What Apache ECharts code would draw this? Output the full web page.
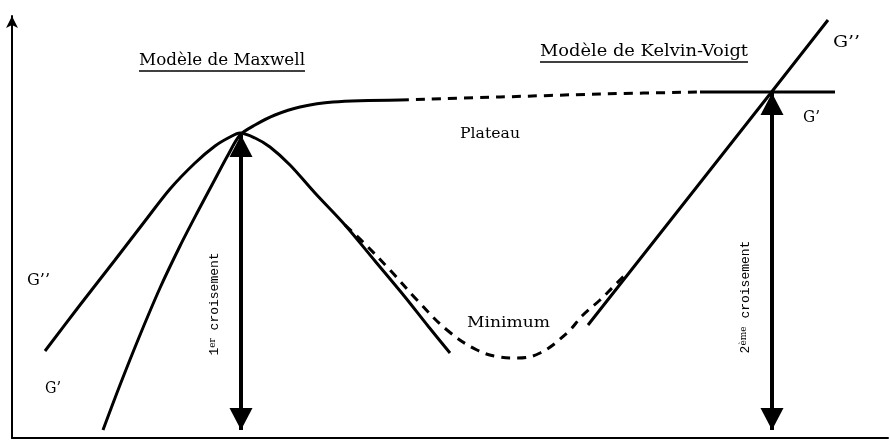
<!DOCTYPE html>
<html>
<head>
<meta charset="utf-8">
<script src="https://cdn.jsdelivr.net/npm/echarts@6/dist/echarts.min.js"></script>
<style>
  html, body { margin: 0; padding: 0; background: #fff; }
  #chart { width: 890px; height: 441px; }
</style>
</head>
<body>
<div id="chart"></div>
<script>
// curve points, [x, y] in arbitrary units
const maxwellGpp = [
    [33, 87], [68, 133], [103, 178], [133, 217], [158, 249], [183, 275], [203, 292],
    [218, 301], [228, 305], [243, 300], [258, 291], [278, 273], [303, 245], [333, 213],
    [363, 177], [393, 141], [416, 112], [438, 85]
];
const realGpp = [
    [333, 213], [351, 196], [378, 168], [405, 138], [435, 108], [465, 88], [488, 81],
    [505, 80], [528, 85], [555, 105], [571, 123], [588, 138], [600, 150], [613, 163]
];
const kelvinGpp = [[576, 113], [758, 344], [816, 418]];
const gPrimeRise = [
    [91, 8], [108, 53], [128, 103], [148, 150], [168, 192], [185, 225], [201, 255],
    [216, 283], [228, 303], [243, 313], [263, 323], [288, 331], [321, 336], [388, 338]
];
const gPrimePlateau = [[388, 338], [488, 341], [588, 344], [688, 346]];
const gPrimeHigh = [[688, 346], [758, 346], [823, 346]];
// crossings: [x, crossing y, bottom y]
const crossing1 = [229, 303, 8];
const crossing2 = [760, 345, 8];

const black = '#000';
const serif = '"DejaVu Serif", "Liberation Serif", serif';
const mono = '"Liberation Mono", "DejaVu Sans Mono", monospace';

const ctx = document.createElement('canvas').getContext('2d');
function measure(text, size, family) {
    ctx.font = size + 'px ' + family;
    return ctx.measureText(text).width;
}

// text squeezed/stretched to the width it has in the figure
function label(text, x, y, size, width) {
    return {
        type: 'text', x: x, y: y, silent: true,
        scaleX: width / measure(text, size, serif),
        style: { text: text, fontSize: size, fontFamily: serif, fill: black, align: 'left', verticalAlign: 'middle' }
    };
}
function underline(x, y, width) {
    return {
        type: 'line', silent: true,
        shape: { x1: x, y1: y, x2: x + width, y2: y },
        style: { stroke: black, lineWidth: 1.5 }
    };
}
function vertical(text, x, y) {
    return {
        type: 'text', x: x, y: y, rotation: Math.PI / 2, silent: true,
        style: {
            text: text, fontSize: 13, fontFamily: mono, fill: black, align: 'center', verticalAlign: 'middle',
            rich: {
                n: { fontSize: 13, fontFamily: mono, fill: black },
                s: { fontSize: 9, fontFamily: serif, fill: black, verticalAlign: 'top' }
            }
        }
    };
}

function curve(data, dashed, smooth) {
    return {
        type: 'line', data: data, symbol: 'none', smooth: smooth, silent: true,
        lineStyle: { color: black, width: 3, type: dashed ? [9, 7] : 'solid' }
    };
}

const chart = echarts.init(document.getElementById('chart'));
chart.setOption({
    animation: false,
    backgroundColor: '#fff',
    grid: { left: 12, right: 2, top: 16, bottom: 3 },
    xAxis: {
        type: 'value', min: 0, max: 876,
        axisLine: { show: true, lineStyle: { color: black, width: 2 } },
        axisTick: { show: false }, axisLabel: { show: false }, splitLine: { show: false }
    },
    yAxis: {
        type: 'value', min: 0, max: 422,
        axisLine: { show: true, symbol: ['none', 'arrow'], symbolSize: [9, 12], lineStyle: { color: black, width: 2 } },
        axisTick: { show: false }, axisLabel: { show: false }, splitLine: { show: false }
    },
    series: [
        curve(maxwellGpp, false, 0.3),
        curve(realGpp, true, 0.4),
        curve(kelvinGpp, false, false),
        curve(gPrimeRise, false, 0.3),
        curve(gPrimePlateau, true, 0.3),
        curve(gPrimeHigh, false, false),
        {
            type: 'line', data: [], silent: true,
            markLine: {
                silent: true, animation: false,
                symbol: ['triangle', 'triangle'],
                symbolSize: [23, 22],
                symbolOffset: [[0, 11], [0, 11]],
                label: { show: false },
                lineStyle: { color: black, width: 4, type: 'solid' },
                data: [
                    [{ coord: [crossing1[0], crossing1[1]] }, { coord: [crossing1[0], crossing1[2]] }],
                    [{ coord: [crossing2[0], crossing2[1]] }, { coord: [crossing2[0], crossing2[2]] }]
                ]
            }
        }
    ],
    graphic: [
        label('Modèle de Maxwell', 139, 61, 16, 166),
        underline(139, 71, 166),
        label('Modèle de Kelvin-Voigt', 540, 52, 16, 208),
        underline(540, 62, 208),
        label('Plateau', 460, 134, 15, 60),
        label('Minimum', 467, 323, 15, 83),
        label('G’’', 833, 43, 16, 27),
        label('G’', 803, 118, 16, 17),
        label('G’’', 27, 281, 16, 23),
        label('G’', 45, 389, 16, 16),
        vertical('{n|1}{s|er} croisement', 215, 304),
        vertical('{n|2}{s|ème} croisement', 746, 297)
    ]
});
</script>
</body>
</html>
